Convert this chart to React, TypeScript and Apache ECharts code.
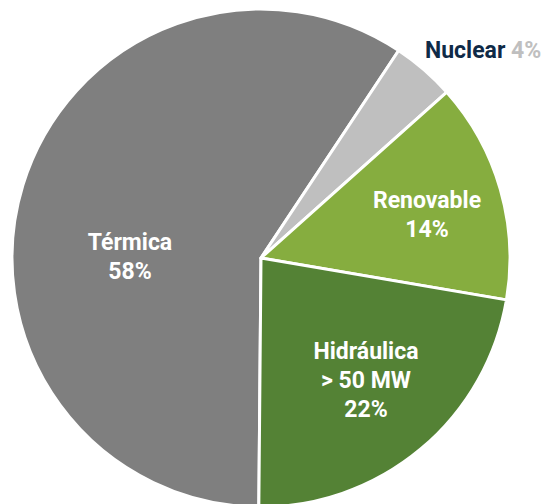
import React, { useEffect, useRef } from "react";
import * as echarts from "echarts";

const categories = ["Térmica", "Nuclear", "Renovable", "Hidráulica\n> 50 MW"];
const values = [58, 4, 14, 22];
const colors = ["#7f7f7f", "#bfbfbf", "#86ad3f", "#548235"];
// label anchor points (px) in the 549x504 canvas
const labelPos: [number, number, string][] = [
  [130, 257, "center"],
  [425, 50, "left"],
  [427, 215, "center"],
  [366, 380, "center"],
];

export default function App() {
  const ref = useRef<HTMLDivElement>(null);
  useEffect(() => {
    document.body.style.margin = "0";
    const chart = echarts.init(ref.current!, null, { renderer: "svg" });
    chart.setOption({
      animation: false,
      backgroundColor: "#ffffff",
      series: [
        {
          type: "pie",
          center: [261, 258],
          radius: 249,
          startAngle: -90.5,
          clockwise: true,
          avoidLabelOverlap: false,
          itemStyle: { borderColor: "#ffffff", borderWidth: 3 },
          label: {
            show: true,
            position: "inside",
            color: "#ffffff",
            fontFamily: "Roboto",
            fontWeight: "bold",
            fontSize: 23,
            lineHeight: 29,
            align: "center",
            formatter: (p: any) => `${p.name}\n${p.value}%`,
          },
          labelLine: { show: false },
          labelLayout: (p: any) => {
            const lp = labelPos[p.dataIndex];
            return { x: lp[0], y: lp[1], align: lp[2], verticalAlign: "middle" };
          },
          data: categories.map((c, i) => {
            const item: any = { name: c, value: values[i], itemStyle: { color: colors[i] } };
            if (c === "Nuclear") {
              item.label = {
                formatter: (p: any) => `{a|${p.name}} {b|${p.value}%}`,
                align: "left",
                rich: {
                  a: { color: "#0f2a47", fontFamily: "Roboto", fontWeight: "bold", fontSize: 23 },
                  b: { color: "#bfbfbf", fontFamily: "Roboto", fontWeight: "bold", fontSize: 23 },
                },
              };
            }
            return item;
          }),
        },
      ],
    });
    return () => chart.dispose();
  }, []);
  return (
    <div
      ref={ref}
      style={{ position: "absolute", left: 0, top: 0, width: 549, height: 504, overflow: "hidden" }}
    />
  );
}
